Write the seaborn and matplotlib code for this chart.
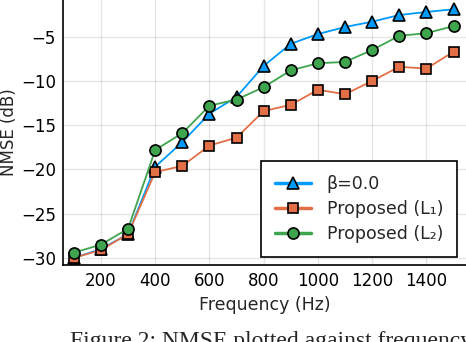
import seaborn as sns, matplotlib.pyplot as plt
import pandas as pd

freq = [100, 200, 300, 400, 500, 600, 700, 800, 900, 1000, 1100, 1200, 1300, 1400, 1500]
beta0 = [-30.0, -29.0, -27.3, -19.7, -16.9, -13.7, -11.8, -8.3, -5.8, -4.7, -3.9, -3.3, -2.55, -2.2, -1.9]
prop_l1 = [-30.0, -29.1, -27.3, -20.3, -19.6, -17.3, -16.4, -13.4, -12.7, -11.0, -11.5, -10.0, -8.4, -8.6, -6.7]
prop_l2 = [-29.4, -28.5, -26.7, -17.8, -15.9, -12.8, -12.1, -10.7, -8.8, -8.0, -7.85, -6.5, -4.9, -4.6, -3.8]

labels = ['β=0.0', 'Proposed (L₁)', 'Proposed (L₂)']
colors = ['#009AFA', '#E36F47', '#3EA44E']
markers = ['^', 's', 'o']
msizes = [8.5, 7.5, 8]

sns.set_style('white')
plt.rcParams['font.family'] = ['DejaVu Sans']

fig = plt.figure(figsize=(4.66, 3.42), dpi=100)
ax = fig.add_axes([63/466, 1 - 265/342, 403/466, 265/342])

for vals, lab, col, mk, ms in zip([beta0, prop_l1, prop_l2], labels, colors, markers, msizes):
    df = pd.DataFrame({'f': freq, 'v': vals})
    sns.lineplot(data=df, x='f', y='v', ax=ax, color=col, marker=mk, label=lab,
                 markersize=ms, markeredgecolor='black',
                 markeredgewidth=1.2, linewidth=1.3)

ax.set_xlim(60, 1546)
ax.set_ylim(-30.8, -0.85)
ax.set_xticks([200, 400, 600, 800, 1000, 1200, 1400])
ax.set_yticks([-30, -25, -20, -15, -10, -5])
ax.grid(True, color='black', alpha=0.1, linewidth=1)
for s in ['top', 'right']:
    ax.spines[s].set_visible(False)
for s in ['left', 'bottom']:
    ax.spines[s].set_color('black')
    ax.spines[s].set_linewidth(1.2)
ax.tick_params(labelsize=12, length=3, direction='in', width=0.8, pad=5, colors='black')
ax.set_xlabel('Frequency (Hz)', fontsize=12.5, labelpad=4)
ax.set_ylabel('NMSE (dB)', fontsize=12, labelpad=2)

leg = ax.legend(loc='lower right', bbox_to_anchor=(0.978, 0.03), borderaxespad=0,
                fontsize=12.5, fancybox=False, edgecolor='black', framealpha=1,
                handlelength=2.1, handletextpad=0.9, borderpad=0.8, labelspacing=0.4)
leg.get_frame().set_linewidth(1.2)
for h in leg.get_lines():
    h.set_linewidth(2.5)

# caption sits at the bottom edge, cut off as in the source image
fig.text(70/466, 1 - 331/342, 'Figure 2: NMSE plotted against frequency',
         family='Liberation Serif', fontsize=17, va='top', ha='left')

fig.savefig('out.png', dpi=100)
